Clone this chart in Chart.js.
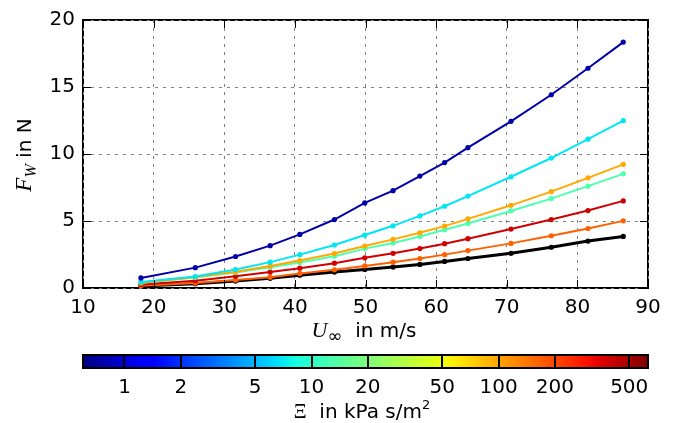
<!DOCTYPE html>
<html><head><meta charset="utf-8">
<script src="https://cdn.jsdelivr.net/npm/chart.js@4"></script>
<style>
html,body{margin:0;padding:0;background:#fff;width:676px;height:423px;overflow:hidden}
canvas{position:absolute;left:0}
#c1{top:0}
#c2{top:340px}
</style></head><body>
<canvas id="c1" width="676" height="340"></canvas>
<canvas id="c2" width="676" height="83"></canvas>
<script>
// ---- data ----
const speeds = [18.2, 25.9, 31.6, 36.5, 40.7, 45.6, 49.9, 53.9, 57.7, 61.2, 64.5, 70.6, 76.3, 81.5, 86.5];
const forceBlue   = [0.75, 1.52, 2.35, 3.16, 4.00, 5.11, 6.35, 7.26, 8.35, 9.36, 10.47, 12.44, 14.42, 16.40, 18.35];
const forceCyan   = [0.45, 0.86, 1.38, 1.93, 2.49, 3.21, 3.95, 4.64, 5.38, 6.10, 6.86, 8.30, 9.70, 11.11, 12.49];
const forceOrange = [0.40, 0.82, 1.21, 1.65, 2.05, 2.57, 3.13, 3.63, 4.12, 4.62, 5.16, 6.17, 7.19, 8.22, 9.23];
const forceAqua   = [0.38, 0.78, 1.15, 1.55, 1.90, 2.37, 2.94, 3.36, 3.85, 4.35, 4.81, 5.75, 6.67, 7.60, 8.52];
const forceRed    = [0.27, 0.55, 0.87, 1.19, 1.48, 1.85, 2.25, 2.59, 2.94, 3.31, 3.68, 4.40, 5.11, 5.78, 6.50];
const forceOrRed  = [0.17, 0.37, 0.59, 0.81, 1.09, 1.36, 1.65, 1.93, 2.20, 2.49, 2.79, 3.33, 3.90, 4.44, 5.01];
const forceBlack  = [0.14, 0.32, 0.52, 0.72, 0.96, 1.19, 1.38, 1.56, 1.76, 1.98, 2.20, 2.59, 3.04, 3.50, 3.85];

const xTickValues = [10, 20, 30, 40, 50, 60, 70, 80, 90];
const yTickValues = [0, 5, 10, 15, 20];
const xiTickValues = [1, 2, 5, 10, 20, 50, 100, 200, 500];
const xiRange = [0.637, 630];

// ---- styles ----
const seriesList = [
  {data: forceBlue,   color: '#0000aa', width: 2},
  {data: forceCyan,   color: '#00e6f2', width: 2},
  {data: forceOrange, color: '#ffa800', width: 2},
  {data: forceAqua,   color: '#4dffb0', width: 2},
  {data: forceRed,    color: '#d00000', width: 2},
  {data: forceOrRed,  color: '#ff6000', width: 2},
  {data: forceBlack,  color: '#000000', width: 3}
];

const SANS = "'DejaVu Sans'";
const SERIF = "'Liberation Serif'";

function drawRuns(ctx, runs, cx, baseline) {
  let total = 0;
  runs.forEach(r => { ctx.font = r.font; r.w = ctx.measureText(r.text).width; total += r.w; });
  let x = cx - total / 2;
  ctx.fillStyle = '#000';
  ctx.textBaseline = 'alphabetic';
  ctx.textAlign = 'left';
  runs.forEach(r => { ctx.font = r.font; ctx.fillText(r.text, x, baseline + (r.dy || 0)); x += r.w; });
}

const mainPlugin = {
  id: 'mainDeco',
  beforeDraw(chart) {
    const {ctx, chartArea: a} = chart;
    ctx.save();
    ctx.strokeStyle = '#000';
    ctx.lineWidth = 2;
    ctx.strokeRect(a.left, a.top, a.right - a.left, a.bottom - a.top);
    ctx.restore();
  },
  afterDraw(chart) {
    const {ctx, chartArea: a, scales} = chart;
    ctx.save();
    ctx.strokeStyle = '#000';
    ctx.lineWidth = 1;
    const L = 8;
    scales.x.ticks.forEach(t => {
      const px = Math.round(scales.x.getPixelForValue(t.value)) + 0.5;
      ctx.beginPath();
      ctx.moveTo(px, a.bottom); ctx.lineTo(px, a.bottom - L);
      ctx.moveTo(px, a.top); ctx.lineTo(px, a.top + L);
      ctx.stroke();
    });
    scales.y.ticks.forEach(t => {
      const py = Math.round(scales.y.getPixelForValue(t.value)) + 0.5;
      ctx.beginPath();
      ctx.moveTo(a.left, py); ctx.lineTo(a.left + L, py);
      ctx.moveTo(a.right, py); ctx.lineTo(a.right - L, py);
      ctx.stroke();
    });
    // x title
    drawRuns(ctx, [
      {text: 'U', font: `italic 22px ${SERIF}`},
      {text: '\u221E', font: `18px ${SANS}`, dy: 5},
      {text: '  in m/s', font: `20px ${SANS}`}
    ], 364, 337);
    // y title
    ctx.translate(31, 155);
    ctx.rotate(-Math.PI / 2);
    drawRuns(ctx, [
      {text: 'F', font: `italic 23px ${SERIF}`},
      {text: 'W', font: `italic 16px ${SERIF}`, dy: 5},
      {text: ' in N', font: `20px ${SANS}`}
    ], 0, 0);
    ctx.restore();
  }
};

const datasets = seriesList.map((s, i) => ({
  data: speeds.map((u, k) => ({x: u, y: s.data[k]})),
  showLine: true,
  borderColor: s.color,
  backgroundColor: s.color,
  borderWidth: s.width,
  pointRadius: 2.6,
  pointBorderWidth: 0,
  pointBackgroundColor: s.color,
  tension: 0,
  order: i
}));

const tickFont = {family: 'DejaVu Sans', size: 20};

new Chart(document.getElementById('c1'), {
  type: 'scatter',
  data: {datasets},
  options: {
    responsive: false,
    animation: false,
    events: [],
    layout: {padding: {left: 0, right: 28, top: 18, bottom: 0}},
    plugins: {legend: {display: false}, tooltip: {enabled: false}},
    scales: {
      x: {
        type: 'linear', min: 10, max: 90,
        afterBuildTicks: s => { s.ticks = xTickValues.map(v => ({value: v})); },
        afterFit: s => { s.height = 52; },
        grid: {color: '#808080', lineWidth: 1, drawTicks: false},
        border: {display: false, dash: [3, 5]},
        ticks: {padding: 8, font: tickFont, color: '#000', maxRotation: 0, autoSkip: false}
      },
      y: {
        type: 'linear', min: 0, max: 20,
        afterBuildTicks: s => { s.ticks = yTickValues.map(v => ({value: v})); },
        afterFit: s => { s.width = 83; },
        grid: {color: '#808080', lineWidth: 1, drawTicks: false},
        border: {display: false, dash: [3, 5]},
        ticks: {padding: 8, font: tickFont, color: '#000', autoSkip: false}
      }
    }
  },
  plugins: [mainPlugin]
});

// ---- colorbar ----
function jet(t) {
  const seg = (pts) => {
    for (let i = 1; i < pts.length; i++) {
      if (t <= pts[i][0]) {
        const [x0, y0] = pts[i - 1], [x1, y1] = pts[i];
        return y0 + (y1 - y0) * (t - x0) / (x1 - x0);
      }
    }
    return pts[pts.length - 1][1];
  };
  const r = seg([[0, 0], [0.35, 0], [0.66, 1], [0.89, 1], [1, 0.5]]);
  const g = seg([[0, 0], [0.125, 0], [0.375, 1], [0.64, 1], [0.91, 0], [1, 0]]);
  const b = seg([[0, 0.5], [0.11, 1], [0.34, 1], [0.65, 0], [1, 0]]);
  return `rgb(${Math.round(r * 255)},${Math.round(g * 255)},${Math.round(b * 255)})`;
}

const cbarPlugin = {
  id: 'cbarDeco',
  beforeDraw(chart) {
    const {ctx, chartArea: a} = chart;
    const grad = ctx.createLinearGradient(a.left, 0, a.right, 0);
    for (let i = 0; i <= 64; i++) grad.addColorStop(i / 64, jet(i / 64));
    ctx.save();
    ctx.fillStyle = grad;
    ctx.fillRect(a.left, a.top, a.right - a.left, a.bottom - a.top);
    ctx.restore();
  },
  afterDraw(chart) {
    const {ctx, chartArea: a} = chart;
    ctx.save();
    ctx.strokeStyle = '#000';
    ctx.lineWidth = 2;
    ctx.strokeRect(a.left, a.top, a.right - a.left, a.bottom - a.top);
    drawRuns(ctx, [
      {text: '\u039E', font: `20px ${SERIF}`},
      {text: '  in kPa s/m', font: `20px ${SANS}`},
      {text: '2', font: `13px ${SANS}`, dy: -9}
    ], 362, 78);
    ctx.restore();
  }
};

new Chart(document.getElementById('c2'), {
  type: 'scatter',
  data: {datasets: []},
  options: {
    responsive: false,
    animation: false,
    events: [],
    layout: {padding: {left: 83, right: 28, top: 15, bottom: 0}},
    plugins: {legend: {display: false}, tooltip: {enabled: false}},
    scales: {
      x: {
        type: 'logarithmic', min: xiRange[0], max: xiRange[1],
        afterBuildTicks: s => { s.ticks = xiTickValues.map(v => ({value: v})); },
        afterFit: s => { s.height = 55; },
        grid: {color: '#000', lineWidth: 2, drawTicks: false},
        border: {display: false},
        ticks: {padding: 8, font: tickFont, color: '#000', maxRotation: 0, autoSkip: false,
                callback: v => String(v)}
      },
      y: {display: false, min: 0, max: 1}
    }
  },
  plugins: [cbarPlugin]
});
</script>
</body></html>
